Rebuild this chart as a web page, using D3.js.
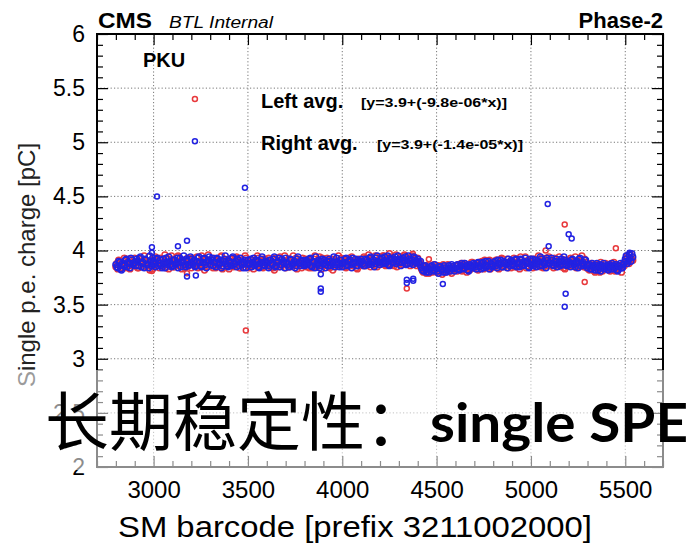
<!DOCTYPE html>
<html>
<head>
<meta charset="utf-8">
<script src="https://cdn.jsdelivr.net/npm/d3@7"></script>
<style>
  body { margin: 0; background: #fff; }
  svg { display: block; font-family: "Liberation Sans", Arial, Helvetica, sans-serif; }
</style>
</head>
<body>
<div id="chart"></div>
<script>
// SM barcodes of the dense band (prefix 3211002000), two interleaved sets of modules
const barcodesA = d3.range(2800, 5541, 10);
const barcodesB = d3.range(2805, 5536, 10);

// left-side SiPM single p.e. charge [pC] (red)
const leftChargeA = [
  3.85, 3.83, 3.88, 3.86, 3.90, 3.84, 3.87, 3.92, 3.86, 3.89,
  3.93, 3.86, 3.84, 3.90, 3.88, 3.95, 3.85, 3.89, 3.82, 3.91,
  3.87, 3.94, 3.89, 3.84, 3.91, 3.86, 3.96, 3.88, 3.83, 3.90,
  3.92, 3.85, 3.89, 3.95, 3.87, 3.83, 3.90, 3.86, 3.93, 3.88,
  3.84, 3.91, 3.87, 3.94, 3.89, 3.85, 3.92, 3.82, 3.88, 3.96,
  3.89, 3.86, 3.93, 3.84, 3.90, 3.87, 3.95, 3.85, 3.91, 3.88,
  3.83, 3.92, 3.88, 3.86, 3.94, 3.89, 3.84, 3.91, 3.87, 3.93,
  3.88, 3.85, 3.91, 3.83, 3.89, 3.95, 3.86, 3.90, 3.84, 3.92,
  3.87, 3.93, 3.85, 3.89, 3.82, 3.91, 3.88, 3.94, 3.86, 3.90,
  3.84, 3.89, 3.92, 3.86, 3.95, 3.88, 3.83, 3.90, 3.87, 3.93,
  3.89, 3.85, 3.91, 3.87, 3.84, 3.92, 3.88, 3.86, 3.94, 3.83,
  3.90, 3.87, 3.93, 3.85, 3.89, 3.82, 3.91, 3.88, 3.95, 3.86,
  3.88, 3.92, 3.84, 3.90, 3.87, 3.94, 3.86, 3.89, 3.83, 3.91,
  3.90, 3.86, 3.93, 3.88, 3.96, 3.85, 3.91, 3.89, 3.94, 3.87,
  3.92, 3.88, 3.95, 3.86, 3.90, 3.97, 3.87, 3.93, 3.89, 3.85,
  3.91, 3.94, 3.87, 3.96, 3.89, 3.92, 3.86, 3.95, 3.90, 3.88,
  3.93, 3.89, 3.83, 3.80, 3.86, 3.82, 3.79, 3.85, 3.81, 3.84,
  3.80, 3.86, 3.83, 3.78, 3.85, 3.81, 3.87, 3.82, 3.79, 3.84,
  3.86, 3.81, 3.84, 3.88, 3.82, 3.85, 3.80, 3.87, 3.83, 3.89,
  3.84, 3.88, 3.82, 3.86, 3.90, 3.83, 3.87, 3.85, 3.91, 3.84,
  3.88, 3.85, 3.91, 3.83, 3.87, 3.92, 3.86, 3.89, 3.84, 3.90,
  3.87, 3.93, 3.85, 3.89, 3.83, 3.91, 3.88, 3.94, 3.86, 3.90,
  3.89, 3.84, 3.92, 3.87, 3.95, 3.85, 3.90, 3.88, 3.93, 3.86,
  3.91, 3.87, 3.84, 3.92, 3.88, 3.94, 3.85, 3.89, 3.83, 3.90,
  3.88, 3.93, 3.86, 3.90, 3.84, 3.91, 3.87, 3.95, 3.85, 3.89,
  3.86, 3.82, 3.88, 3.84, 3.80, 3.87, 3.83, 3.89, 3.81, 3.85,
  3.83, 3.87, 3.81, 3.85, 3.89, 3.82, 3.86, 3.84, 3.80, 3.88,
  3.90, 3.95, 3.88, 3.93, 3.91
];
const leftChargeB = [
  3.88, 3.91, 3.84, 3.87, 3.93, 3.85, 3.90, 3.83, 3.89, 3.86,
  3.90, 3.84, 3.92, 3.87, 3.85, 3.91, 3.88, 3.94, 3.86, 3.83,
  3.91, 3.86, 3.88, 3.93, 3.85, 3.90, 3.84, 3.92, 3.87, 3.95,
  3.85, 3.89, 3.94, 3.86, 3.91, 3.88, 3.84, 3.92, 3.87, 3.90,
  3.93, 3.86, 3.90, 3.84, 3.88, 3.95, 3.87, 3.91, 3.85, 3.89,
  3.92, 3.84, 3.88, 3.91, 3.86, 3.94, 3.83, 3.89, 3.87, 3.92,
  3.86, 3.90, 3.85, 3.93, 3.88, 3.84, 3.91, 3.87, 3.95, 3.89,
  3.84, 3.91, 3.87, 3.90, 3.86, 3.93, 3.89, 3.85, 3.92, 3.88,
  3.91, 3.86, 3.90, 3.84, 3.93, 3.88, 3.85, 3.91, 3.87, 3.95,
  3.88, 3.92, 3.85, 3.90, 3.87, 3.93, 3.86, 3.91, 3.84, 3.89,
  3.92, 3.87, 3.84, 3.90, 3.88, 3.95, 3.85, 3.91, 3.87, 3.93,
  3.86, 3.91, 3.88, 3.84, 3.92, 3.89, 3.85, 3.90, 3.87, 3.93,
  3.91, 3.85, 3.89, 3.93, 3.86, 3.90, 3.88, 3.84, 3.92, 3.87,
  3.88, 3.94, 3.86, 3.91, 3.89, 3.93, 3.87, 3.95, 3.85, 3.92,
  3.89, 3.95, 3.87, 3.92, 3.88, 3.94, 3.90, 3.86, 3.96, 3.91,
  3.88, 3.92, 3.95, 3.87, 3.93, 3.90, 3.94, 3.88, 3.92, 3.86,
  3.90, 3.85, 3.81, 3.84, 3.79, 3.86, 3.83, 3.80, 3.87, 3.82,
  3.85, 3.81, 3.84, 3.87, 3.80, 3.83, 3.86, 3.81, 3.85, 3.82,
  3.83, 3.87, 3.85, 3.81, 3.88, 3.84, 3.86, 3.82, 3.89, 3.85,
  3.87, 3.83, 3.89, 3.86, 3.84, 3.91, 3.85, 3.88, 3.83, 3.90,
  3.86, 3.91, 3.84, 3.89, 3.93, 3.85, 3.88, 3.92, 3.87, 3.84,
  3.90, 3.85, 3.92, 3.87, 3.94, 3.86, 3.89, 3.84, 3.91, 3.88,
  3.92, 3.87, 3.85, 3.90, 3.88, 3.93, 3.84, 3.91, 3.86, 3.94,
  3.86, 3.90, 3.93, 3.85, 3.89, 3.87, 3.92, 3.84, 3.91, 3.88,
  3.91, 3.86, 3.89, 3.94, 3.87, 3.85, 3.90, 3.88, 3.92, 3.84,
  3.83, 3.87, 3.85, 3.81, 3.86, 3.84, 3.80, 3.86, 3.83, 3.88,
  3.86, 3.82, 3.88, 3.84, 3.81, 3.87, 3.83, 3.85, 3.87, 3.86,
  3.93, 3.89, 3.97, 3.92
];

// right-side SiPM single p.e. charge [pC] (blue)
const rightChargeA = [
  3.87, 3.84, 3.89, 3.82, 3.86, 3.91, 3.85, 3.88, 3.93, 3.87,
  3.89, 3.92, 3.86, 3.94, 3.88, 3.84, 3.91, 3.87, 3.95, 3.86,
  3.90, 3.85, 3.93, 3.88, 3.86, 3.92, 3.84, 3.89, 3.94, 3.87,
  3.86, 3.91, 3.88, 3.84, 3.93, 3.89, 3.95, 3.85, 3.90, 3.87,
  3.92, 3.87, 3.85, 3.90, 3.94, 3.86, 3.89, 3.93, 3.84, 3.91,
  3.87, 3.93, 3.89, 3.85, 3.92, 3.88, 3.84, 3.90, 3.95, 3.86,
  3.90, 3.86, 3.94, 3.88, 3.85, 3.91, 3.93, 3.87, 3.89, 3.84,
  3.91, 3.88, 3.85, 3.93, 3.87, 3.90, 3.84, 3.92, 3.89, 3.86,
  3.89, 3.84, 3.91, 3.87, 3.94, 3.86, 3.90, 3.85, 3.92, 3.88,
  3.93, 3.87, 3.85, 3.91, 3.88, 3.84, 3.92, 3.89, 3.86, 3.90,
  3.86, 3.91, 3.88, 3.93, 3.85, 3.89, 3.94, 3.87, 3.84, 3.90,
  3.88, 3.84, 3.90, 3.92, 3.86, 3.89, 3.85, 3.93, 3.87, 3.91,
  3.85, 3.89, 3.93, 3.87, 3.91, 3.84, 3.88, 3.92, 3.86, 3.90,
  3.92, 3.88, 3.86, 3.91, 3.87, 3.94, 3.89, 3.85, 3.93, 3.90,
  3.87, 3.93, 3.90, 3.88, 3.95, 3.86, 3.92, 3.89, 3.94, 3.91,
  3.89, 3.86, 3.93, 3.90, 3.87, 3.95, 3.88, 3.91, 3.94, 3.89,
  3.92, 3.87, 3.84, 3.81, 3.86, 3.83, 3.80, 3.85, 3.82, 3.87,
  3.83, 3.79, 3.85, 3.82, 3.86, 3.80, 3.84, 3.81, 3.87, 3.83,
  3.84, 3.87, 3.82, 3.86, 3.83, 3.88, 3.85, 3.81, 3.86, 3.84,
  3.87, 3.83, 3.89, 3.85, 3.88, 3.84, 3.90, 3.86, 3.83, 3.88,
  3.86, 3.90, 3.84, 3.88, 3.91, 3.85, 3.89, 3.87, 3.92, 3.86,
  3.90, 3.86, 3.92, 3.88, 3.85, 3.91, 3.87, 3.93, 3.89, 3.84,
  3.87, 3.92, 3.88, 3.85, 3.90, 3.94, 3.86, 3.89, 3.84, 3.91,
  3.88, 3.93, 3.86, 3.90, 3.85, 3.89, 3.92, 3.87, 3.91, 3.86,
  3.90, 3.85, 3.92, 3.87, 3.89, 3.84, 3.93, 3.88, 3.86, 3.91,
  3.84, 3.87, 3.83, 3.86, 3.82, 3.88, 3.85, 3.81, 3.86, 3.83,
  3.86, 3.82, 3.85, 3.88, 3.83, 3.87, 3.81, 3.85, 3.84, 3.87,
  3.92, 3.88, 3.96, 3.90, 3.94
];
const rightChargeB = [
  3.85, 3.90, 3.83, 3.88, 3.86, 3.92, 3.89, 3.84, 3.91, 3.88,
  3.86, 3.90, 3.93, 3.85, 3.89, 3.92, 3.87, 3.84, 3.90, 3.93,
  3.88, 3.92, 3.86, 3.91, 3.84, 3.89, 3.93, 3.87, 3.90, 3.85,
  3.91, 3.87, 3.93, 3.89, 3.85, 3.91, 3.87, 3.92, 3.86, 3.94,
  3.88, 3.91, 3.86, 3.93, 3.89, 3.85, 3.92, 3.87, 3.90, 3.94,
  3.91, 3.86, 3.89, 3.93, 3.87, 3.91, 3.86, 3.92, 3.88, 3.85,
  3.88, 3.93, 3.87, 3.90, 3.92, 3.86, 3.89, 3.84, 3.91, 3.88,
  3.87, 3.92, 3.89, 3.86, 3.91, 3.85, 3.88, 3.94, 3.87, 3.90,
  3.86, 3.91, 3.88, 3.92, 3.85, 3.89, 3.93, 3.87, 3.90, 3.84,
  3.89, 3.85, 3.92, 3.87, 3.90, 3.86, 3.94, 3.88, 3.91, 3.87,
  3.90, 3.87, 3.92, 3.86, 3.90, 3.84, 3.88, 3.91, 3.86, 3.92,
  3.91, 3.87, 3.86, 3.90, 3.88, 3.94, 3.87, 3.89, 3.85, 3.88,
  3.88, 3.92, 3.86, 3.90, 3.87, 3.93, 3.89, 3.86, 3.91, 3.88,
  3.90, 3.86, 3.92, 3.89, 3.93, 3.87, 3.91, 3.88, 3.95, 3.89,
  3.92, 3.88, 3.94, 3.90, 3.87, 3.93, 3.89, 3.92, 3.88, 3.95,
  3.92, 3.89, 3.91, 3.94, 3.88, 3.92, 3.90, 3.87, 3.93, 3.90,
  3.89, 3.90, 3.82, 3.85, 3.80, 3.84, 3.82, 3.86, 3.81, 3.84,
  3.81, 3.85, 3.83, 3.80, 3.84, 3.82, 3.86, 3.83, 3.85, 3.81,
  3.86, 3.83, 3.85, 3.88, 3.84, 3.86, 3.82, 3.87, 3.85, 3.88,
  3.85, 3.88, 3.86, 3.83, 3.89, 3.87, 3.85, 3.90, 3.87, 3.85,
  3.89, 3.86, 3.91, 3.87, 3.85, 3.90, 3.88, 3.84, 3.89, 3.91,
  3.87, 3.91, 3.85, 3.89, 3.92, 3.86, 3.90, 3.88, 3.85, 3.92,
  3.90, 3.86, 3.91, 3.88, 3.86, 3.92, 3.89, 3.87, 3.93, 3.88,
  3.91, 3.87, 3.89, 3.92, 3.88, 3.86, 3.90, 3.94, 3.87, 3.89,
  3.87, 3.91, 3.88, 3.85, 3.90, 3.92, 3.86, 3.89, 3.91, 3.87,
  3.86, 3.83, 3.88, 3.84, 3.86, 3.82, 3.87, 3.84, 3.88, 3.85,
  3.84, 3.87, 3.83, 3.86, 3.85, 3.82, 3.86, 3.88, 3.84, 3.89,
  3.95, 3.90, 3.93, 3.97
];

// modules off the band
const leftOutBarcode = [3219, 3489, 2991, 3177, 4374, 4459, 4342, 5078, 5179, 5285, 5450];
const leftOutCharge  = [5.40, 3.26, 3.81, 3.79, 3.97, 3.92, 3.65, 4.00, 4.24, 3.71, 4.02];
const rightOutBarcode = [3219, 3018, 3484, 2991, 2991, 3129, 3177, 3177, 3224, 3886, 3886, 3886,
                         4342, 4342, 4376, 4376, 4533, 5089, 5094, 5200, 5216, 5184, 5179, 5523];
const rightOutCharge  = [5.01, 4.50, 4.58, 4.03, 3.98, 4.04, 4.09, 3.76, 3.77, 3.65, 3.62, 3.78,
                         3.73, 3.70, 3.74, 3.72, 3.69, 4.43, 4.04, 4.15, 4.11, 3.60, 3.48, 3.98];

const xMajor = [3000, 3500, 4000, 4500, 5000, 5500];
const yMajor = [2, 2.5, 3, 3.5, 4, 4.5, 5, 5.5, 6];

const width = 693, height = 544;
const plotL = 97, plotR = 663, plotT = 34, plotB = 467;

const svg = d3.select('#chart').append('svg')
  .attr('width', width).attr('height', height);

const x = d3.scaleLinear().domain([2700, 5700]).range([plotL, plotR]);
const y = d3.scaleLinear().domain([2, 6]).range([plotB, plotT]);

const xMinor = d3.range(2700, 5701, 100).filter((v) => !xMajor.includes(v));
const yMinor = d3.range(20, 61).map((v) => v / 10).filter((v) => !yMajor.includes(v));

// dotted grid
const grid = svg.append('g').attr('stroke', '#777').attr('stroke-width', 1).attr('stroke-dasharray', '1.2,2.2');
grid.selectAll('.gx').data(xMajor).join('line')
  .attr('x1', (d) => x(d)).attr('x2', (d) => x(d)).attr('y1', plotT).attr('y2', plotB);
grid.selectAll('.gy').data(yMajor.slice(1, -1)).join('line')
  .attr('y1', (d) => y(d)).attr('y2', (d) => y(d)).attr('x1', plotL).attr('x2', plotR);

// data points: band modules slightly larger than the isolated outliers
const pair = (xs, ys, r) => xs.map((b, i) => [b, ys[i], r]);
const leftPts = pair(barcodesA, leftChargeA, 2.9)
  .concat(pair(barcodesB, leftChargeB, 2.9), pair(leftOutBarcode, leftOutCharge, 2.5));
const rightPts = pair(barcodesA, rightChargeA, 2.9)
  .concat(pair(barcodesB, rightChargeB, 2.9), pair(rightOutBarcode, rightOutCharge, 2.5));

const pts = svg.append('g').attr('fill', 'none').attr('stroke-width', 1.5);
pts.append('g').attr('stroke', '#e8393c').selectAll('circle').data(leftPts).join('circle')
  .attr('cx', (d) => x(d[0])).attr('cy', (d) => y(d[1])).attr('r', (d) => d[2]);
pts.append('g').attr('stroke', '#2222e2').selectAll('circle').data(rightPts).join('circle')
  .attr('cx', (d) => x(d[0])).attr('cy', (d) => y(d[1])).attr('r', (d) => d[2]);

// axes with ROOT-style inward ticks
function styleAxis(g) {
  g.select('.domain').remove();
  g.selectAll('line').attr('stroke', '#000').attr('stroke-width', 1.2);
  g.selectAll('text').attr('fill', '#000').attr('font-family', '"Liberation Sans", Arial, sans-serif');
}
svg.append('g').attr('transform', `translate(0,${plotB})`)
  .call(d3.axisBottom(x).tickValues(xMajor).tickSize(-11).tickPadding(14).tickFormat(d3.format('d')))
  .call(styleAxis).call((g) => g.selectAll('text').attr('font-size', 24));
svg.append('g').attr('transform', `translate(0,${plotB})`)
  .call(d3.axisBottom(x).tickValues(xMinor).tickSize(-6).tickFormat(''))
  .call(styleAxis);
svg.append('g').attr('transform', `translate(0,${plotT})`)
  .call(d3.axisTop(x).tickValues(xMajor).tickSize(-11).tickFormat(''))
  .call(styleAxis);
svg.append('g').attr('transform', `translate(0,${plotT})`)
  .call(d3.axisTop(x).tickValues(xMinor).tickSize(-6).tickFormat(''))
  .call(styleAxis);
svg.append('g').attr('transform', `translate(${plotL},0)`)
  .call(d3.axisLeft(y).tickValues(yMajor).tickSize(-11).tickPadding(12).tickFormat(d3.format('~g')))
  .call(styleAxis).call((g) => g.selectAll('text').attr('font-size', 23));
svg.append('g').attr('transform', `translate(${plotL},0)`)
  .call(d3.axisLeft(y).tickValues(yMinor).tickSize(-6).tickFormat(''))
  .call(styleAxis);
svg.append('g').attr('transform', `translate(${plotR},0)`)
  .call(d3.axisRight(y).tickValues(yMajor).tickSize(-11).tickFormat(''))
  .call(styleAxis);
svg.append('g').attr('transform', `translate(${plotR},0)`)
  .call(d3.axisRight(y).tickValues(yMinor).tickSize(-6).tickFormat(''))
  .call(styleAxis);

svg.append('rect').attr('x', plotL).attr('y', plotT).attr('width', plotR - plotL).attr('height', plotB - plotT)
  .attr('fill', 'none').attr('stroke', '#000').attr('stroke-width', 2);

// header and labels
svg.append('text').attr('x', 98).attr('y', 28).attr('font-size', 22).attr('font-weight', 'bold')
  .attr('textLength', 54).attr('lengthAdjust', 'spacingAndGlyphs').text('CMS');
svg.append('text').attr('x', 169).attr('y', 28).attr('font-size', 16).attr('font-style', 'italic')
  .attr('textLength', 104).attr('lengthAdjust', 'spacingAndGlyphs').text('BTL Internal');
svg.append('text').attr('x', 663).attr('y', 28).attr('font-size', 22).attr('font-weight', 'bold')
  .attr('text-anchor', 'end').text('Phase-2');
svg.append('text').attr('x', 143).attr('y', 67).attr('font-size', 20).attr('font-weight', 'bold').text('PKU');

svg.append('text').attr('x', 261).attr('y', 108).attr('font-size', 20).attr('font-weight', 'bold').text('Left avg.');
svg.append('text').attr('x', 361).attr('y', 107).attr('font-size', 12.5).attr('font-weight', 'bold')
  .attr('textLength', 146).attr('lengthAdjust', 'spacingAndGlyphs').text('[y=3.9+(-9.8e-06*x)]');
svg.append('text').attr('x', 261).attr('y', 150).attr('font-size', 20).attr('font-weight', 'bold').text('Right avg.');
svg.append('text').attr('x', 377).attr('y', 149).attr('font-size', 12.5).attr('font-weight', 'bold')
  .attr('textLength', 146).attr('lengthAdjust', 'spacingAndGlyphs').text('[y=3.9+(-1.4e-05*x)]');

svg.append('text').attr('x', (plotL + plotR) / 2 - 25).attr('y', 537).attr('font-size', 30)
  .attr('text-anchor', 'middle').attr('textLength', 474).attr('lengthAdjust', 'spacingAndGlyphs')
  .text('SM barcode [prefix 3211002000]');
svg.append('text').attr('transform', 'translate(35,265) rotate(-90)').attr('font-size', 24)
  .attr('text-anchor', 'middle').attr('fill', '#222').text('Single p.e. charge [pC]');

// translucent overlay band and the slide caption on top
svg.append('rect').attr('x', 0).attr('y', 370).attr('width', width).attr('height', 100)
  .attr('fill', '#fff').attr('opacity', 0.55);
svg.append('text').attr('x', 45).attr('y', 445).attr('font-size', 64)
  .attr('font-family', '"Noto Sans CJK SC", sans-serif').attr('fill', '#000').text('长期稳定性：');
svg.append('text').attr('x', 430).attr('y', 442).attr('font-size', 54).attr('font-weight', 'bold')
  .attr('font-family', 'Lato, "Open Sans", sans-serif').attr('fill', '#000')
  .attr('textLength', 258).attr('lengthAdjust', 'spacingAndGlyphs').text('single SPE');
</script>
</body>
</html>
